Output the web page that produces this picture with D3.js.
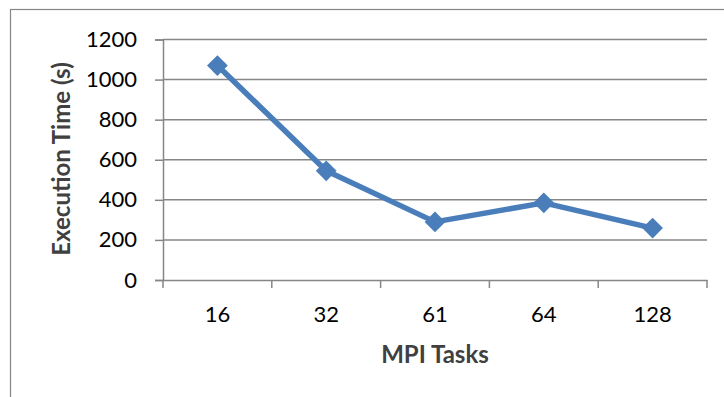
<!DOCTYPE html>
<html>
<head>
<meta charset="utf-8">
<script src="https://cdn.jsdelivr.net/npm/d3@7"></script>
<style>
  html, body { margin: 0; padding: 0; background: #fff; }
  svg { display: block; }
  text { font-family: Lato, "Open Sans", sans-serif; fill: #000; }
</style>
</head>
<body>
<svg id="chart" width="724" height="397"></svg>
<script>
// Execution time of the run for each MPI task count
const tasks = ["16", "32", "61", "64", "128"];
const execTime = [1070, 545, 290, 385, 259];
const yTicks = [0, 200, 400, 600, 800, 1000, 1200];

const svg = d3.select("#chart");
const W = 724, H = 397;

// Chart frame
svg.append("rect")
  .attr("x", 10.5).attr("y", 9.5)
  .attr("width", W + 10).attr("height", H + 10)
  .attr("fill", "none").attr("stroke", "#868686").attr("stroke-width", 1.2);

const plot = { left: 163, right: 707, top: 39.5, bottom: 280 };

const x = d3.scaleBand().domain(tasks).range([plot.left, plot.right]);
const y = d3.scaleLinear().domain([0, 1200]).range([plot.bottom, plot.top]);

// Horizontal gridlines
svg.append("g").selectAll("line").data(yTicks.filter(d => d > 0)).join("line")
  .attr("x1", plot.left).attr("x2", plot.right)
  .attr("y1", d => y(d)).attr("y2", d => y(d))
  .attr("stroke", "#868686").attr("stroke-width", 1.5);

// Y axis
const yAxis = svg.append("g")
  .attr("transform", `translate(${plot.left},0)`)
  .call(d3.axisLeft(y).tickValues(yTicks).tickSize(8).tickPadding(18).tickFormat(d3.format("d")));
yAxis.select(".domain").attr("stroke", "#868686").attr("stroke-width", 1.5);
yAxis.selectAll(".tick line").attr("stroke", "#868686").attr("stroke-width", 1.5);
yAxis.selectAll(".tick text").attr("font-size", 22).attr("font-family", "Lato, sans-serif").attr("fill", "#000");

// X axis with ticks between categories
const xAxis = svg.append("g")
  .attr("transform", `translate(0,${plot.bottom})`)
  .call(d3.axisBottom(x).tickSize(0).tickPadding(26));
xAxis.select(".domain").attr("stroke", "#868686").attr("stroke-width", 1.5);
xAxis.selectAll(".tick text").attr("font-size", 22).attr("font-family", "Lato, sans-serif").attr("fill", "#000");
const edges = tasks.map(t => x(t)).concat([plot.right]);
xAxis.selectAll("line.sep").data(edges).join("line")
  .attr("class", "sep")
  .attr("x1", d => d).attr("x2", d => d)
  .attr("y1", 0).attr("y2", 8)
  .attr("stroke", "#868686").attr("stroke-width", 1.5);

// Series line and diamond markers
const cx = d => x(d) + x.bandwidth() / 2;
const pts = tasks.map((t, i) => [cx(t), y(execTime[i])]);
svg.append("path")
  .attr("d", d3.line()(pts))
  .attr("fill", "none").attr("stroke", "#4a7ebb")
  .attr("stroke-width", 5.5).attr("stroke-linejoin", "round");
svg.append("g").selectAll("path").data(pts).join("path")
  .attr("d", d3.symbol(d3.symbolSquare, 215)())
  .attr("transform", d => `translate(${d[0]},${d[1]}) rotate(45)`)
  .attr("fill", "#4a7ebb");

// Axis titles
svg.append("text")
  .attr("transform", `translate(70,159) rotate(-90)`)
  .attr("text-anchor", "middle")
  .attr("font-size", 24).attr("font-weight", "bold")
  .attr("fill", "#404040").style("fill", "#404040")
  .text("Execution Time (s)");
svg.append("text")
  .attr("x", 435).attr("y", 362.5)
  .attr("text-anchor", "middle")
  .attr("font-size", 24).attr("font-weight", "bold")
  .style("fill", "#404040")
  .text("MPI Tasks");
</script>
</body>
</html>
